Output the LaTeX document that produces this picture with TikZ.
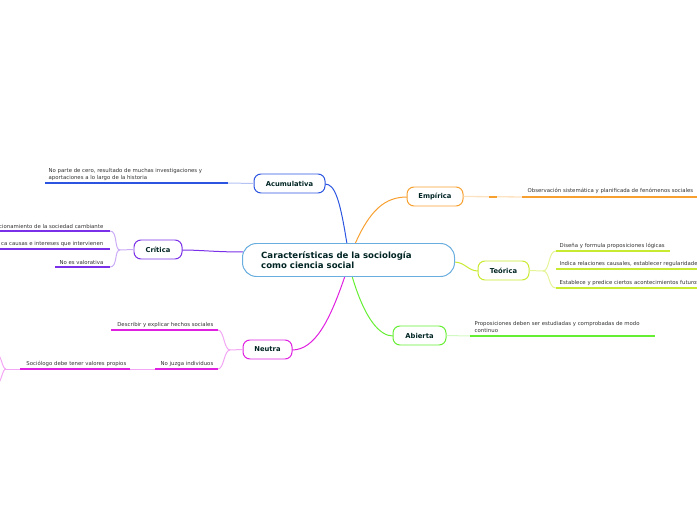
\documentclass[tikz,border=0pt]{standalone}
\usepackage{fontspec}
\setmainfont{DejaVu Sans}
\begin{document}
\begin{tikzpicture}[x=1bp,y=-1bp,
 topic/.style={draw=#1,line width=1pt,rounded corners=7bp,fill=white,font=\fontsize{6.8}{7}\selectfont\bfseries,text=black!60!teal!70!black,minimum height=19bp,inner sep=2bp},
 leaf/.style={font=\fontsize{5.4}{6.8}\selectfont,text=black!80,inner sep=0.5bp,align=left},
 br/.style={draw=#1,line width=1pt},
 ul/.style={draw=#1,line width=1.3pt}]
\useasboundingbox (0,0) rectangle (697,520);
\begin{scope}
\clip (0,0) rectangle (697,520);
\definecolor{cblue}{HTML}{2B55E0}
\definecolor{corange}{HTML}{F7A030}
\definecolor{cpurple}{HTML}{7A30E8}
\definecolor{cyel}{HTML}{C8EA30}
\definecolor{cgreen}{HTML}{66EE33}
\definecolor{cmag}{HTML}{E020E0}
\definecolor{ccen}{HTML}{6AAEE0}
\coordinate (c1) at (347,244); \coordinate (c2) at (355,244);
\coordinate (c3) at (243,252); \coordinate (c4) at (454,262);
\coordinate (c5) at (352,276); \coordinate (c6) at (345,276);
\draw[br=cblue] (c1) .. controls (340,200) and (335,184) .. (325,184);
\draw[br=corange] (c2) .. controls (370,210) and (385,197) .. (407,197);
\draw[br=cpurple] (c3) .. controls (215,252) and (200,250) .. (182,250);
\draw[br=cyel] (c4) .. controls (465,262) and (468,271) .. (478,271);
\draw[br=cgreen] (c5) .. controls (365,320) and (380,336) .. (393,336);
\draw[br=cmag] (c6) .. controls (330,320) and (315,350) .. (292,350);
\node[topic=ccen,minimum width=211bp,minimum height=32bp,rounded corners=14bp,draw=none,fill=none] (cenbox) at (348.5,260) {};
\draw[ccen,line width=1pt,rounded corners=14bp,fill=white] (cenbox.north west) rectangle (cenbox.south east);
\node[font=\fontsize{8.6}{9.6}\selectfont\bfseries,align=left,anchor=west,inner sep=0pt,text=black!60!teal!70!black] (cen) at (261,260) {Características de la sociología\\como ciencia social};
\node[topic=cblue,minimum width=71bp] (acu) at (289.5,183.5) {Acumulativa};
\node[topic=corange,minimum width=56bp] (emp) at (435,196.5) {Empírica};
\node[topic=cpurple,minimum width=48bp] (cri) at (158,249.5) {Crítica};
\node[topic=cyel,minimum width=51bp] (teo) at (503.5,270.5) {Teórica};
\node[topic=cgreen,minimum width=53bp] (abi) at (419.5,335.5) {Abierta};
\node[topic=cmag,minimum width=49bp] (neu) at (267.5,349.5) {Neutra};
% Acumulativa leaf
\coordinate (a1) at (45,183);
\draw[br=cblue!35] (acu.west) -- (228,183);
\draw[ul=cblue] (228,183) -- (a1);
\node[leaf,anchor=south west] (la1) at (48,181) {No parte de cero, resultado de muchas investigaciones y\\aportaciones a lo largo de la historia};
% Empírica leaf
\draw[line width=1.3pt,corange!30] (emp.east) -- (527,197);
\draw[line width=1.3pt,corange] (489,197) -- (497,197);
\coordinate (e1) at (697,197);
\draw[ul=corange] (522,197) -- (e1);
\node[leaf,anchor=south west] (le1) at (527,194) {Observación sistemática y planificada de fenómenos sociales};
% Crítica leaves
\coordinate (k0) at (120,250);
\draw[br=cpurple!40] (cri.west) -- (k0);
\coordinate (k1) at (110,231); \coordinate (k2) at (110,249); \coordinate (k3) at (110,267);
\draw[br=cpurple!40] (k0) .. controls (114,250) and (118,231) .. (k1);
\draw[br=cpurple!40] (k0) .. controls (114,250) and (118,267) .. (k3);
\draw[ul=cpurple] (k1) -- (0,231);
\draw[ul=cpurple] (k2) -- (0,249);
\draw[ul=cpurple] (k3) -- (55,267);
\node[leaf,anchor=south east] (lk1) at (104,229) {cionamiento de la sociedad cambiante};
\node[leaf,anchor=south east] (lk2) at (104,247) {ca causas e intereses que intervienen};
\node[leaf,anchor=south east] (lk3) at (104,265) {No es valorativa};
% Teórica leaves
\coordinate (t0) at (543,271);
\draw[br=cyel!50] (teo.east) -- (t0);
\coordinate (t1) at (556,251); \coordinate (t2) at (556,269); \coordinate (t3) at (556,288);
\draw[br=cyel!50] (t0) .. controls (550,271) and (548,251) .. (t1);
\draw[br=cyel!50] (t0) .. controls (550,271) and (548,288) .. (t3);
\draw[ul=cyel] (t1) -- (670,251);
\draw[ul=cyel] (t2) -- (697,269);
\draw[ul=cyel] (t3) -- (697,288);
\node[leaf,anchor=south west] (lt1) at (559,249) {Diseña y formula proposiciones lógicas};
\node[leaf,anchor=south west] (lt2) at (559,267) {Indica relaciones causales, establecer regularidades};
\node[leaf,anchor=south west] (lt3) at (559,286) {Establece y predice ciertos acontecimientos futuros};
% Abierta leaf
\draw[br=cgreen!30] (abi.east) -- (470,336);
\coordinate (g1) at (655,336);
\draw[ul=cgreen] (470,336) -- (g1);
\node[leaf,anchor=south west] (lg1) at (474,333) {Proposiciones deben ser estudiadas y comprobadas de modo\\continuo};
% Neutra leaves
\coordinate (n0) at (230,350);
\draw[br=cmag!40] (neu.west) -- (n0);
\coordinate (n1) at (218,330); \coordinate (n2) at (218,369);
\draw[br=cmag!40] (n0) .. controls (224,350) and (224,330) .. (n1);
\draw[br=cmag!40] (n0) .. controls (224,350) and (224,369) .. (n2);
\draw[ul=cmag] (n1) -- (111,330);
\draw[ul=cmag] (n2) -- (155,369);
\draw[br=cmag!40] (155,369) -- (130,369);
\draw[ul=cmag] (130,369) -- (20,369);
\draw[br=cmag!40] (20,369) -- (6,369);
\draw[br=cmag!40] (6,369) .. controls (2,369) and (2,356) .. (-4,352);
\draw[br=cmag!40] (6,369) .. controls (2,369) and (2,382) .. (-4,386);
\node[leaf,anchor=south east] (ln1) at (214,328) {Describir y explicar hechos sociales};
\node[leaf,anchor=south east] (ln2) at (214,367) {No juzga individuos};
\node[leaf,anchor=south east] (ln3) at (127,367) {Sociólogo debe tener valores propios};
\end{scope}
\end{tikzpicture}
\end{document}
